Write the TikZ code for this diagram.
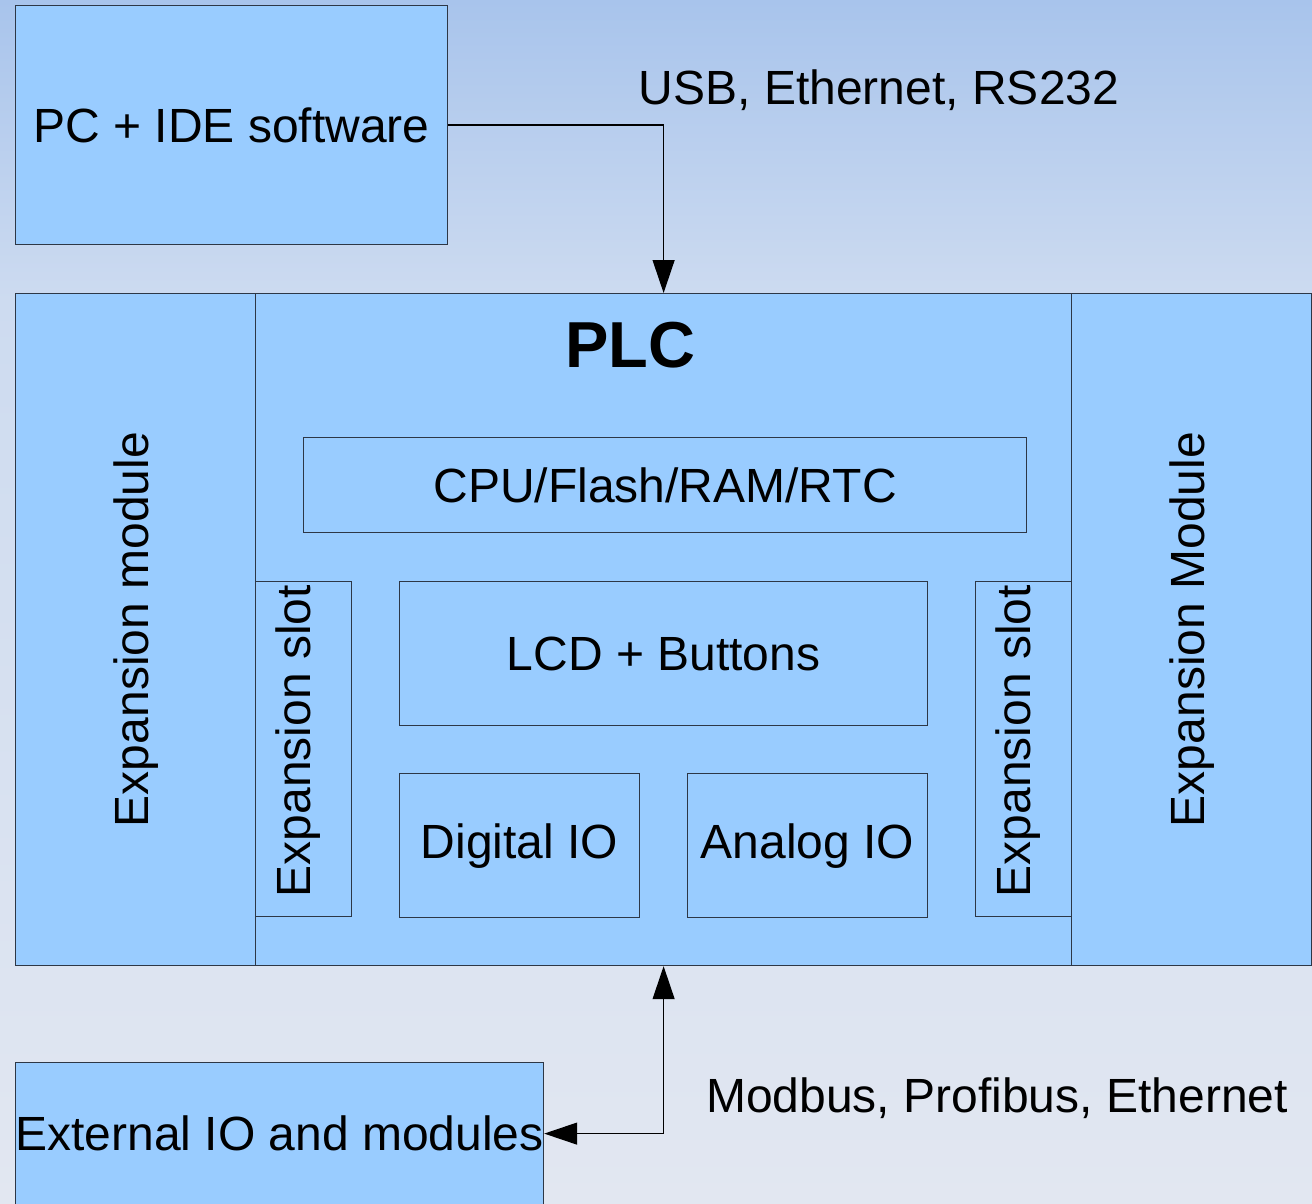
\documentclass[tikz,border=0pt]{standalone}
\usepackage{fontspec}
\setmainfont{Liberation Sans}
\usetikzlibrary{calc, arrows.meta, positioning}

\definecolor{boxblue}{RGB}{153,204,255}
\definecolor{boxline}{RGB}{45,55,70}
\definecolor{bgtop}{RGB}{168,196,236}
\definecolor{bgmid}{RGB}{205,219,240}
\definecolor{bgbot}{RGB}{226,231,241}

\begin{document}
\begin{tikzpicture}[x=0.5pt, y=-0.5pt,
		box/.style={draw=boxline, line width=0.6pt, fill=boxblue, anchor=north west, inner sep=0pt},
		txt/.style={font=\fontsize{24}{28}\selectfont, inner sep=0pt},
		conn/.style={draw=black, line width=0.6pt, -{Triangle[length=16.5pt, width=11pt]}}]
		% background
		\shade[top color=bgtop, bottom color=bgmid] (0,0) rectangle (1312,300);
		\shade[top color=bgmid, bottom color=bgbot] (0,299) rectangle (1312,1204);
		\useasboundingbox (0,0) rectangle (1312,1204);
		
		% pc
		\node[box, minimum width=216pt, minimum height=119.5pt] (pc) at (15,5) {};
		\node[txt] (pctext) at (pc) {PC + IDE software};
		
		% main unit and the two modules
		\node[box, minimum width=120pt, minimum height=336pt] (lexp) at (15,293) {};
		\node[box, minimum width=408pt, minimum height=336pt] (plc) at (255,293) {};
		\node[box, minimum width=120pt, minimum height=336pt] (rexp) at (1071,293) {};
		\node[txt, rotate=90] (lexptext) at (lexp) {Expansion module};
		\node[txt, rotate=90] (rexptext) at (rexp) {Expansion Module};
		\node[font=\fontsize{32.5}{36}\selectfont\bfseries, inner sep=0pt] (plctitle) at (630,345) {PLC};
		
		% inside the plc
		\node[box, minimum width=361.5pt, minimum height=47.5pt] (cpu) at (303,437) {};
		\node[txt] (cputext) at (cpu) {CPU/Flash/RAM/RTC};
		\node[box, minimum width=48pt, minimum height=167.5pt] (lslot) at (255,581) {};
		\node[box, minimum width=48pt, minimum height=167.5pt] (rslot) at (975,581) {};
		\node[txt, rotate=90] (lslottext) at ($(lslot)+(-6,-8)$) {Expansion slot};
		\node[txt, rotate=90] (rslottext) at ($(rslot)+(-6,-8)$) {Expansion slot};
		\node[box, minimum width=264pt, minimum height=72pt] (lcd) at (399,581) {};
		\node[txt] (lcdtext) at (lcd) {LCD + Buttons};
		\node[box, minimum width=120pt, minimum height=72pt] (dio) at (399,773) {};
		\node[txt] (diotext) at (dio) {Digital IO};
		\node[box, minimum width=120pt, minimum height=72pt] (aio) at (687,773) {};
		\node[txt] (aiotext) at (aio) {Analog IO};
		
		% external io
		\node[box, minimum width=264pt, minimum height=71pt] (ext) at (15,1062) {};
		\node[txt] (exttext) at (ext) {External IO and modules};
		
		% links
		\draw[conn] (pc.east) -| (plc.north);
		\node[txt] (usb) at (879,90) {USB, Ethernet, RS232};
		\draw[conn, {Triangle[length=16.5pt, width=11pt]}-{Triangle[length=16.5pt, width=11pt]}] (plc.south) |- (ext.east);
		\node[txt] (bus) at (997,1098) {Modbus, Profibus, Ethernet};
		
	\end{tikzpicture}
\end{document}
